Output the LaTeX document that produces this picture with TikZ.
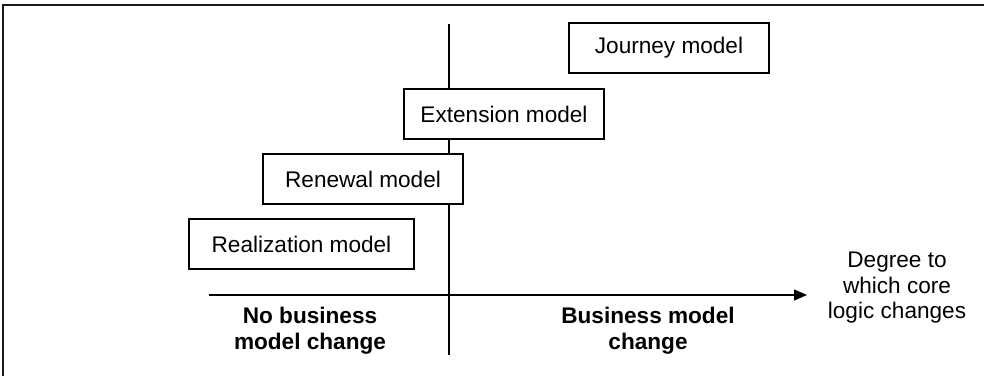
\documentclass[tikz,border=0pt]{standalone}
\usepackage{fontspec}
\setmainfont{Liberation Sans}
\usetikzlibrary{arrows.meta}
\begin{document}
\begin{tikzpicture}[x=1pt,y=-1pt,
  model/.style={draw=black,fill=white,line width=1.4pt,minimum height=50pt,inner sep=0pt,
    font=\fontsize{22.6}{25.5}\selectfont},
  axis/.style={line width=1.4pt},
  lbl/.style={align=center,inner sep=0pt,font=\fontsize{22.6}{25.5}\selectfont}]
\useasboundingbox (0,0) rectangle (984,375);
\fill[white] (0,0) rectangle (984,375);
\draw[line width=2pt,black!90] (3,376) -- (3,5) -- (985,5);
\coordinate (vtop) at (449,24);
\coordinate (vbot) at (449,355);
\coordinate (hl) at (209,295);
\coordinate (hr) at (807,295);
\draw[axis] (vtop) -- (vbot);
\draw[axis,-{Triangle[length=13pt,width=11pt]}] (hl) -- (hr);
\node[model,minimum width=200pt] (journey) at (669,48) {Journey model};
\node[model,minimum width=200pt] (ext) at (504,114) {Extension model};
\node[model,minimum width=200pt] (ren) at (363,179) {Renewal model};
\node[model,minimum width=225pt] (real) at (301.5,244) {Realization model};
\node[lbl,font=\fontsize{22.6}{26}\selectfont\bfseries] (nobm) at (310,331) {No business\\model change};
\node[lbl,font=\fontsize{22.6}{26}\selectfont\bfseries] (bm) at (648,331) {Business model\\change};
\node[lbl] (deg) at (897,288) {Degree to\\which core\\logic changes};
\end{tikzpicture}
\end{document}
